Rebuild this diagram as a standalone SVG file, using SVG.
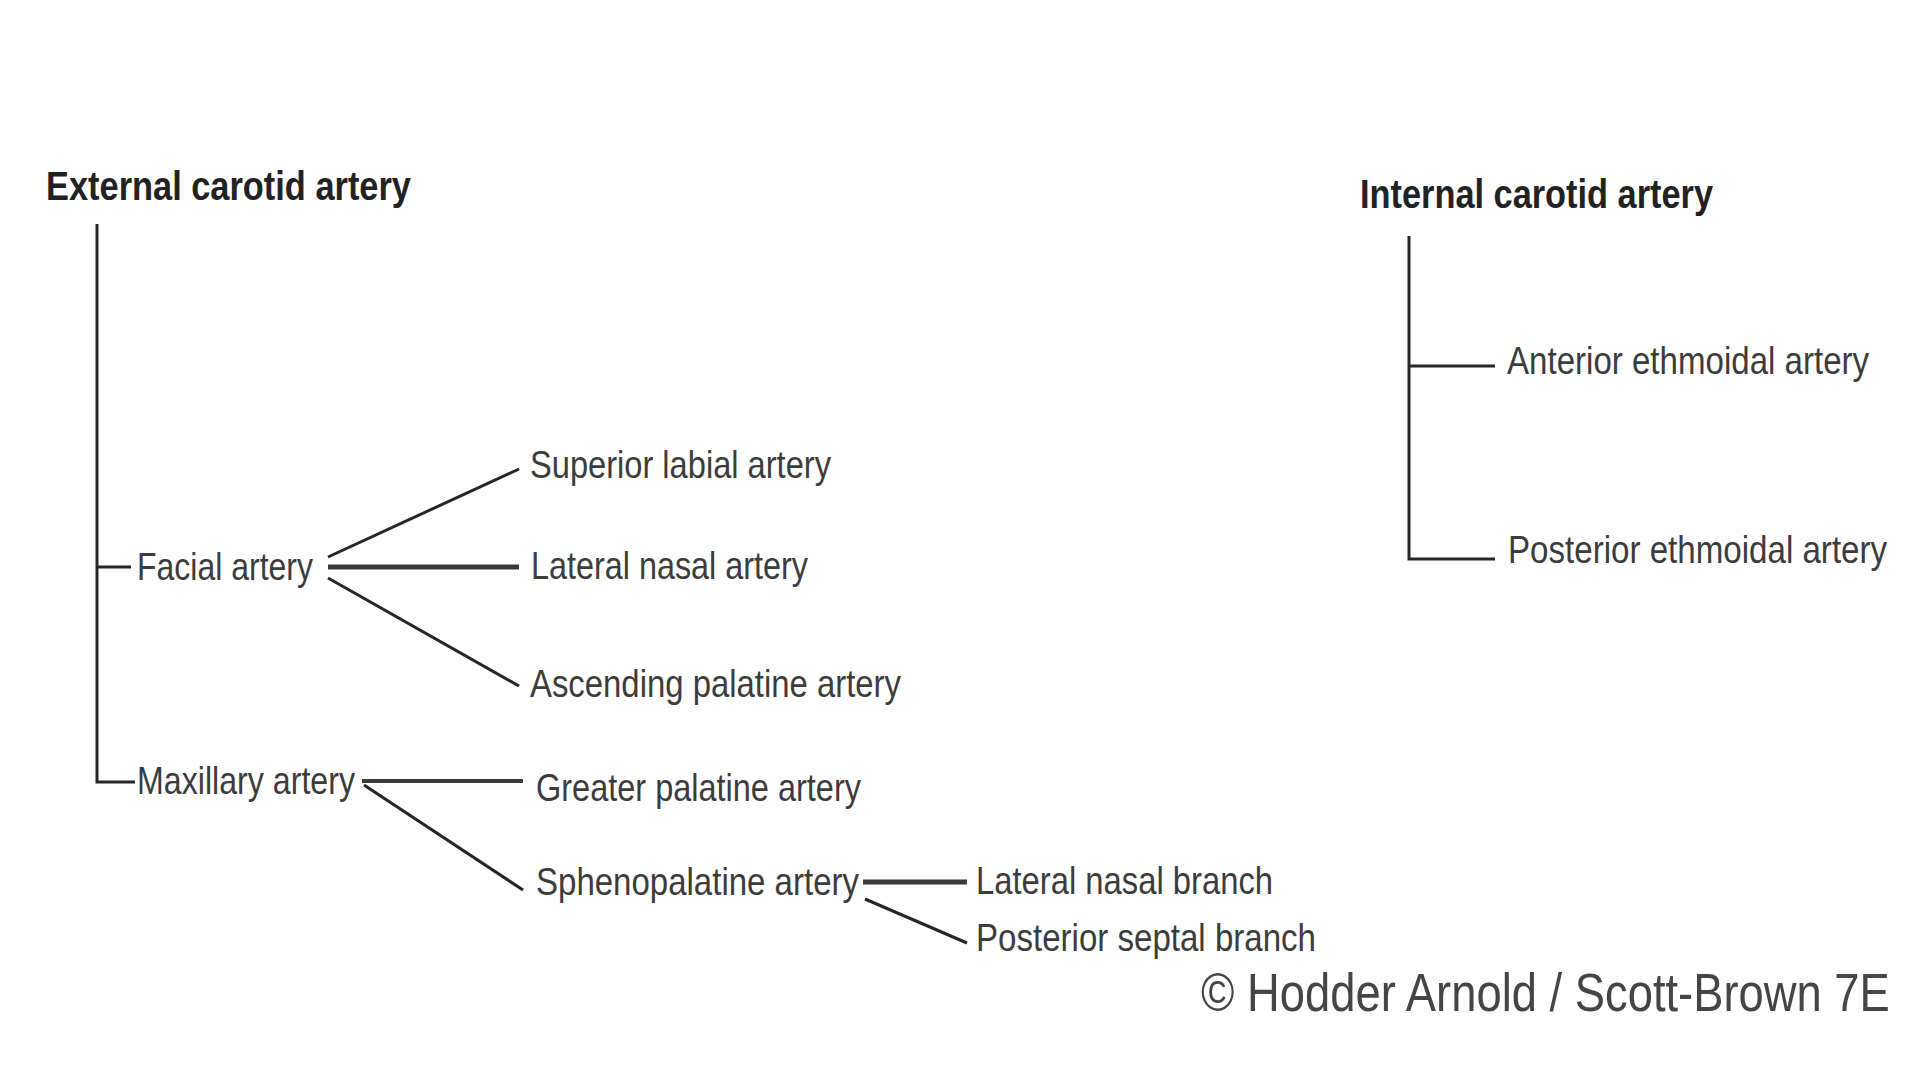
<svg xmlns="http://www.w3.org/2000/svg" width="1920" height="1080" viewBox="0 0 1920 1080">
<style>
.t{font-family:"Liberation Sans",Arial,sans-serif;font-size:39px;fill:#3c3c3c}
.h{font-family:"Liberation Sans",Arial,sans-serif;font-size:40px;font-weight:bold;fill:#222}
.c{font-family:"Liberation Sans",Arial,sans-serif;font-size:54px;fill:#454545}
.l{stroke:#262626;stroke-width:3;fill:none;stroke-linecap:butt}
.lt{stroke:#3a3a3a;stroke-width:5;fill:none}
</style>
<rect width="1920" height="1080" fill="#fefefe"/>
<g id="connectors">
  <path class="l" d="M97 224 V782 H135"/>
  <path class="l" d="M97 567 H131"/>
  <path class="l" d="M328 557 L519 469"/>
  <path class="lt" d="M328 567 H519"/>
  <path class="l" d="M328 578 L519 686"/>
  <path class="lt" d="M362 781 H523" style="stroke-width:4"/>
  <path class="l" d="M364 785 L523 890"/>
  <path class="lt" d="M863 882 H967"/>
  <path class="l" d="M865 899 L967 943"/>
  <path class="l" d="M1409 236 V559 H1495"/>
  <path class="l" d="M1409 366 H1495"/>
</g>
<g id="external-carotid"><text class="h" x="46" y="200" textLength="365" lengthAdjust="spacingAndGlyphs">External carotid artery</text></g>
<g id="internal-carotid"><text class="h" x="1360" y="208" textLength="353" lengthAdjust="spacingAndGlyphs">Internal carotid artery</text></g>
<g id="facial"><text class="t" x="137" y="580" textLength="176" lengthAdjust="spacingAndGlyphs">Facial artery</text></g>
<g id="maxillary"><text class="t" x="137" y="794" textLength="218" lengthAdjust="spacingAndGlyphs">Maxillary artery</text></g>
<g id="superior-labial"><text class="t" x="530" y="478" textLength="301" lengthAdjust="spacingAndGlyphs">Superior labial artery</text></g>
<g id="lateral-nasal-artery"><text class="t" x="531" y="579" textLength="277" lengthAdjust="spacingAndGlyphs">Lateral nasal artery</text></g>
<g id="ascending-palatine"><text class="t" x="530" y="697" textLength="371" lengthAdjust="spacingAndGlyphs">Ascending palatine artery</text></g>
<g id="greater-palatine"><text class="t" x="536" y="801" textLength="325" lengthAdjust="spacingAndGlyphs">Greater palatine artery</text></g>
<g id="sphenopalatine"><text class="t" x="536" y="895" textLength="323" lengthAdjust="spacingAndGlyphs">Sphenopalatine artery</text></g>
<g id="lateral-nasal-branch"><text class="t" x="976" y="894" textLength="297" lengthAdjust="spacingAndGlyphs">Lateral nasal branch</text></g>
<g id="posterior-septal-branch"><text class="t" x="976" y="951" textLength="340" lengthAdjust="spacingAndGlyphs">Posterior septal branch</text></g>
<g id="anterior-ethmoidal"><text class="t" transform="translate(1507 374) scale(0.85 1)" x="0" y="0" textLength="426" lengthAdjust="spacingAndGlyphs">Anterior ethmoidal artery</text></g>
<g id="posterior-ethmoidal"><text class="t" transform="translate(1508 563) scale(0.85 1)" x="0" y="0" textLength="446" lengthAdjust="spacingAndGlyphs">Posterior ethmoidal artery</text></g>
<g id="copyright"><text class="c" transform="translate(1201 1011) scale(0.84 1)" x="0" y="0" textLength="820" lengthAdjust="spacingAndGlyphs">© Hodder Arnold / Scott-Brown 7E</text></g>
</svg>
